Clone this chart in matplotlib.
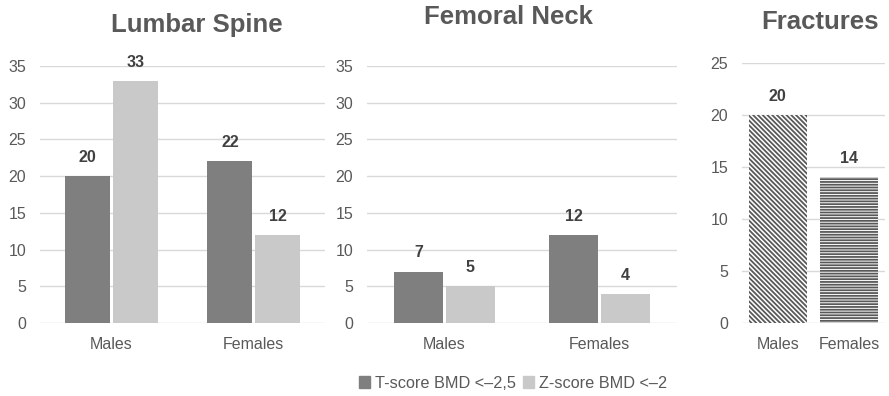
import matplotlib
matplotlib.use("Agg")
import matplotlib.pyplot as plt
from matplotlib.patches import Patch
import numpy as np

plt.rcParams['font.family'] = ['Liberation Sans', 'DejaVu Sans']
plt.rcParams['hatch.linewidth'] = 1.3

# data
groups = ["Males", "Females"]
lumbar_t = [20, 22]
lumbar_z = [33, 12]
femoral_t = [7, 12]
femoral_z = [5, 4]
fractures = [20, 14]
series_names = ["T-score BMD <\u20132,5", "Z-score BMD <\u20132"]

DARK = "#7f7f7f"
LIGHT = "#c9c9c9"
GRID = "#d9d9d9"
TXT = "#595959"
VAL = "#404040"

W, H = 889, 396
fig = plt.figure(figsize=(W / 100, H / 100), dpi=100, facecolor="white")


def px_axes(x0, x1, y_top, y_bot):
    return fig.add_axes([x0 / W, 1 - y_bot / H, (x1 - x0) / W, (y_bot - y_top) / H])


def style(ax, ymax):
    ax.set_ylim(0, ymax)
    ax.set_yticks(np.arange(0, ymax + 1, 5))
    ax.set_xlim(-0.5, 1.5)
    ax.set_xticks(range(len(groups)))
    ax.set_xticklabels(groups)
    for s in ax.spines.values():
        s.set_visible(False)
    ax.grid(axis="y", color=GRID, lw=1)
    ax.set_axisbelow(True)
    ax.tick_params(length=0, labelsize=11.5, colors=TXT)
    ax.tick_params(axis="x", pad=10)
    ax.tick_params(axis="y", pad=10)


def grouped(ax, t, z):
    x = np.arange(len(groups))
    w = 0.315
    b1 = ax.bar(x - w / 2 - 0.01, t, w, color=DARK)
    b2 = ax.bar(x + w / 2 + 0.01, z, w, color=LIGHT)
    for b in (b1, b2):
        ax.bar_label(b, padding=8, fontsize=11.5, fontweight="bold", color=VAL)


ax1 = px_axes(40, 325, 66, 323)
style(ax1, 35)
grouped(ax1, lumbar_t, lumbar_z)

ax2 = px_axes(367, 677, 66, 323)
style(ax2, 35)
grouped(ax2, femoral_t, femoral_z)

ax3 = px_axes(742, 885, 63, 323)
style(ax3, 25)
bars = ax3.bar(np.arange(len(groups)), fractures, 0.81, color="white",
               edgecolor="#595959", lw=0)
bars[0].set_hatch("\\\\\\\\\\\\\\")
bars[1].set_hatch("------")
ax3.bar_label(bars, padding=8, fontsize=11.5, fontweight="bold", color=VAL)

title_kw = dict(fontsize=18.5, fontweight="bold", color=TXT, ha="center", va="center")
fig.text(197 / W, 1 - 25 / H, "Lumbar Spine", **title_kw)
fig.text(508 / W, 1 - 17 / H, "Femoral Neck", **title_kw)
fig.text(820 / W, 1 - 22 / H, "Fractures", **title_kw)

handles = [Patch(color=DARK), Patch(color=LIGHT)]
fig.legend(handles, series_names, loc="center", bbox_to_anchor=(513 / W, 1 - 383 / H),
           ncol=2, frameon=False, fontsize=11.7, labelcolor=TXT,
           handlelength=0.7, handleheight=0.7, handletextpad=0.3, columnspacing=0.4)

fig.savefig("out.png", dpi=100, facecolor="white")
